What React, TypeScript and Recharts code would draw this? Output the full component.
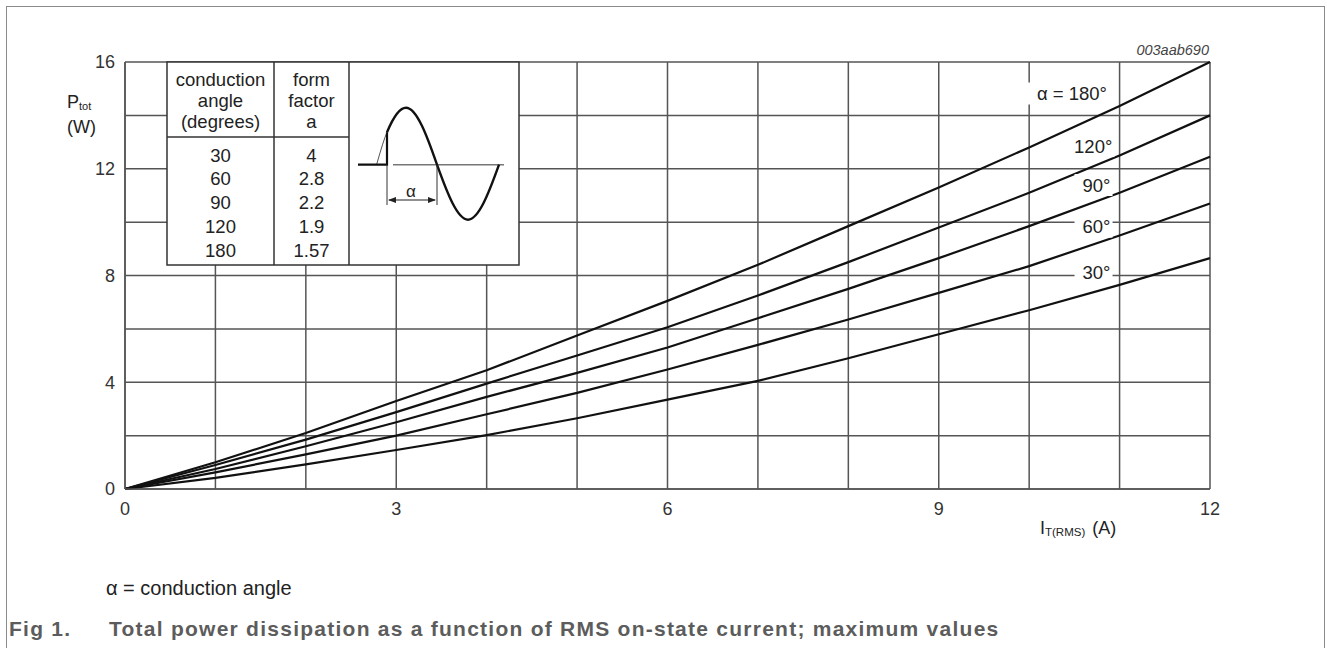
import React from 'react';
import { LineChart, Line, XAxis, YAxis, CartesianGrid, ReferenceDot } from 'recharts';

// I_T(RMS) in A
const currentA = [0, 1, 2, 3, 4, 5, 6, 7, 8, 9, 10, 11, 12];

// P_tot in W, one list per conduction angle
const alpha30 = [0, 0.42, 0.92, 1.46, 2.02, 2.65, 3.35, 4.05, 4.9, 5.8, 6.7, 7.65, 8.65];
const alpha60 = [0, 0.62, 1.3, 2.0, 2.8, 3.6, 4.48, 5.4, 6.35, 7.35, 8.35, 9.5, 10.7];
const alpha90 = [0, 0.75, 1.6, 2.5, 3.45, 4.35, 5.3, 6.4, 7.5, 8.65, 9.85, 11.1, 12.45];
const alpha120 = [0, 0.9, 1.85, 2.88, 3.95, 5.0, 6.06, 7.25, 8.5, 9.8, 11.1, 12.5, 14.0];
const alpha180 = [0, 1.0, 2.1, 3.3, 4.45, 5.75, 7.05, 8.4, 9.85, 11.3, 12.8, 14.35, 16.0];

const xTicks = [0, 1, 2, 3, 4, 5, 6, 7, 8, 9, 10, 11, 12];
const yTicks = [0, 2, 4, 6, 8, 10, 12, 14, 16];

// curve tags (right end of text, in data units)
const tagText = ['α = 180°', '120°', '90°', '60°', '30°'];
const tagX = [10.86, 10.92, 10.9, 10.9, 10.9];
const tagY = [14.82, 12.85, 11.39, 9.83, 8.1];

// inset table
const conductionAngles = ['30', '60', '90', '120', '180'];
const formFactors = ['4', '2.8', '2.2', '1.9', '1.57'];

const data = currentA.map((x, i) => ({
  x,
  a30: alpha30[i],
  a60: alpha60[i],
  a90: alpha90[i],
  a120: alpha120[i],
  a180: alpha180[i],
}));

const FONT = '"Liberation Sans", Arial, Helvetica, sans-serif';
const GRID = '#555';

const CurveTag = ({ cx, cy, text }: any) => {
  const w = text.length === 8 ? 76 : text.length * 10;
  return (
    <g>
      <rect x={cx - w - 6} y={cy - 11} width={w + 8} height={22} fill="#fff" />
      <text x={cx} y={cy} textAnchor="end" dominantBaseline="central" fontSize={18.5} fontFamily={FONT} fill="#222">
        {text}
      </text>
    </g>
  );
};

const Inset = () => {
  const left = 167, right = 519, top = 62, bottom = 265;
  const c1 = 274, c2 = 349, head = 137;
  const rowY = [155, 178.5, 202.5, 226.5, 250.5];
  return (
    <g fontFamily={FONT} fill="#222">
      <rect x={left} y={top} width={right - left} height={bottom - top} fill="#fff" stroke="#333" strokeWidth={1.5} />
      <line x1={c1} y1={top} x2={c1} y2={bottom} stroke="#333" strokeWidth={1.5} />
      <line x1={c2} y1={top} x2={c2} y2={bottom} stroke="#333" strokeWidth={1.5} />
      <line x1={left} y1={head} x2={c2} y2={head} stroke="#333" strokeWidth={1.5} />
      <g fontSize={18.5} textAnchor="middle" dominantBaseline="central">
        <text x={(left + c1) / 2} y={79}>conduction</text>
        <text x={(left + c1) / 2} y={100}>angle</text>
        <text x={(left + c1) / 2} y={121}>(degrees)</text>
        <text x={(c1 + c2) / 2} y={79}>form</text>
        <text x={(c1 + c2) / 2} y={100}>factor</text>
        <text x={(c1 + c2) / 2} y={121}>a</text>
        {conductionAngles.map((a, i) => (
          <text key={'a' + a} x={(left + c1) / 2} y={rowY[i]}>{a}</text>
        ))}
        {formFactors.map((f, i) => (
          <text key={'f' + i} x={(c1 + c2) / 2} y={rowY[i]}>{f}</text>
        ))}
      </g>
      {/* waveform sketch */}
      <line x1={393} y1={164.7} x2={504} y2={164.7} stroke="#777" strokeWidth={1.4} />
      <path d="M376.6,164.7 Q383.1,141.3 387,132.2" fill="none" stroke="#555" strokeWidth={1} />
      <path d="M358,164.7 L387,164.7 L387,132.2" fill="none" stroke="#111" strokeWidth={2.2} />
      <path
        d="M387,132.2 C393.3,117.1 399.7,107.7 406,107.7 C416.6,107.7 426.9,135.5 437,164.7 C447.1,192.9 457.4,219.7 468,219.7 C478.6,219.7 488.9,192.9 499,164.7"
        fill="none"
        stroke="#111"
        strokeWidth={2.4}
      />
      <line x1={387} y1={164.7} x2={387} y2={205} stroke="#333" strokeWidth={1} />
      <line x1={437} y1={164.7} x2={437} y2={205} stroke="#333" strokeWidth={1} />
      <line x1={389} y1={200} x2={435} y2={200} stroke="#222" strokeWidth={1.2} />
      <path d="M388,200 L396,197 L396,203 Z" fill="#222" />
      <path d="M436,200 L428,197 L428,203 Z" fill="#222" />
      <text x={411} y={191} fontSize={17} textAnchor="middle" dominantBaseline="central">α</text>
    </g>
  );
};

export default function App() {
  return (
    <div style={{ position: 'absolute', left: 0, top: 0, width: 1327, height: 648, background: '#fff', overflow: 'hidden' }}>
      <div style={{ position: 'absolute', left: 6, top: 6, width: 1319, height: 660, border: '1.6px solid #8a8a8a', boxSizing: 'border-box' }} />
      <div style={{ position: 'absolute', left: 0, top: 0 }}>
        <LineChart width={1327} height={648} data={data} margin={{ top: 62, right: 117, left: 65, bottom: 119 }}>
          <CartesianGrid stroke={GRID} strokeWidth={1.5} />
          <XAxis
            dataKey="x"
            type="number"
            domain={[0, 12]}
            ticks={xTicks}
            interval={0}
            height={40}
            axisLine={{ stroke: GRID, strokeWidth: 1.5 }}
            tickLine={false}
            tickSize={10}
            tickMargin={3}
            tick={{ fontSize: 18, fontFamily: FONT, fill: '#333' }}
            tickFormatter={(v: number) => (v % 3 === 0 ? String(v) : '')}
          />
          <YAxis
            type="number"
            domain={[0, 16]}
            ticks={yTicks}
            interval={0}
            width={60}
            axisLine={{ stroke: GRID, strokeWidth: 1.5 }}
            tickLine={false}
            tickSize={8}
            tickMargin={2}
            tick={{ fontSize: 18, fontFamily: FONT, fill: '#333' }}
            tickFormatter={(v: number) => (v % 4 === 0 ? String(v) : '')}
          />
          <Line dataKey="a30" type="linear" stroke="#111" strokeWidth={2.2} dot={false} isAnimationActive={false} />
          <Line dataKey="a60" type="linear" stroke="#111" strokeWidth={2.2} dot={false} isAnimationActive={false} />
          <Line dataKey="a90" type="linear" stroke="#111" strokeWidth={2.2} dot={false} isAnimationActive={false} />
          <Line dataKey="a120" type="linear" stroke="#111" strokeWidth={2.2} dot={false} isAnimationActive={false} />
          <Line dataKey="a180" type="linear" stroke="#111" strokeWidth={2.2} dot={false} isAnimationActive={false} />
          {tagText.map((t, i) => (
            <ReferenceDot
              key={t}
              x={tagX[i]}
              y={tagY[i]}
              r={0}
              ifOverflow="visible"
              shape={(p: any) => <CurveTag {...p} text={t} />}
            />
          ))}
        </LineChart>
      </div>
      <svg width={1327} height={648} style={{ position: 'absolute', left: 0, top: 0, pointerEvents: 'none' }}>
        <Inset />
        <g fontFamily={FONT} fill="#222">
          <text x={1209} y={50} textAnchor="end" dominantBaseline="central" fontSize={14.5} fontStyle="italic" fill="#444">
            003aab690
          </text>
          <text x={67} y={101.5} dominantBaseline="central" fontSize={18}>
            P<tspan fontSize={11} dy={4}>tot</tspan>
          </text>
          <text x={67} y={127} dominantBaseline="central" fontSize={18}>(W)</text>
          <text x={1040} y={528} dominantBaseline="central" fontSize={18}>
            I<tspan fontSize={11.5} dy={4}>T(RMS)</tspan>
            <tspan dy={-4} dx={7}>(A)</tspan>
          </text>
          <text x={106} y={588} dominantBaseline="central" fontSize={20}>α = conduction angle</text>
          <g fontWeight="bold" fontSize={21} fill="#5c5c5c" letterSpacing={1.25}>
            <text x={9} y={628} dominantBaseline="central">Fig 1.</text>
            <text x={109} y={628} dominantBaseline="central">Total power dissipation as a function of RMS on-state current; maximum values</text>
          </g>
        </g>
      </svg>
    </div>
  );
}
